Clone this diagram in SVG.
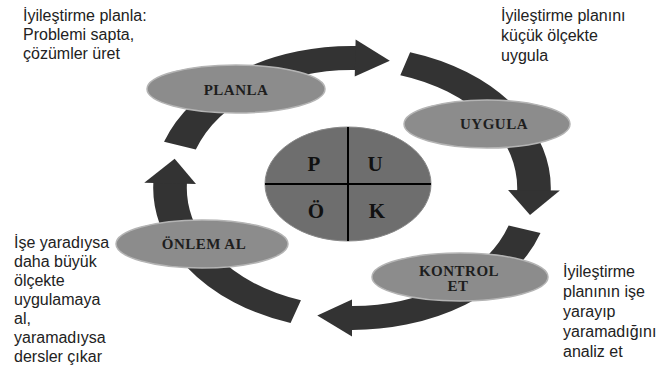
<svg xmlns="http://www.w3.org/2000/svg" width="672" height="372" viewBox="0 0 672 372">
<style>
.band{fill:none;stroke:#333;stroke-width:24;stroke-linecap:butt}
.head{fill:#333}
.node{fill:#8c8c8c;stroke:#b4b4b4;stroke-width:1.5}
.nt{font-family:"Liberation Serif",serif;font-weight:bold;font-size:15px;letter-spacing:0.5px;fill:#1e1e1e;text-anchor:middle}
.ct{font-family:"Liberation Serif",serif;font-weight:bold;font-size:21px;fill:#111;text-anchor:middle}
.side{font-family:"Liberation Sans",Arial,sans-serif;font-size:16px;fill:#222}
</style>
<rect width="672" height="372" fill="#fff"/>
<g id="connectors" transform="translate(352,188) scale(1.4,1)">
  <path class="band" d="M -122.92 -42.32 A 130 130 0 0 1 4.54 -129.92"/>
  <polygon class="head" points="2.59,-148.48 27.03,-127.16 1.95,-111.48"/>
  <path class="band" d="M 38.01 -124.32 A 130 130 0 0 1 129.92 4.54"/>
  <polygon class="head" points="148.48,2.59 127.16,27.03 111.48,1.95"/>
  <path class="band" d="M 123.28 41.25 A 130 130 0 0 1 -4.54 129.92"/>
  <polygon class="head" points="0,148.5 -24.81,127.61 0,111.5"/>
  <path class="band" d="M -40.17 123.64 A 130 130 0 0 1 -129.68 -9.07"/>
  <polygon class="head" points="-148.41,-5.18 -126.67,-29.24 -111.43,-3.89"/>
</g>
<g id="planla">
  <ellipse class="node" cx="236" cy="89" rx="89" ry="24"/>
  <text class="nt" x="236" y="95">PLANLA</text>
</g>
<g id="uygula">
  <ellipse class="node" cx="487" cy="124" rx="83" ry="24"/>
  <text class="nt" x="494" y="129">UYGULA</text>
</g>
<g id="kontrol">
  <ellipse class="node" cx="460" cy="277" rx="88" ry="24"/>
  <text class="nt" x="459" y="276">KONTROL</text>
  <text class="nt" x="458" y="291">ET</text>
</g>
<g id="onlem">
  <ellipse class="node" cx="202" cy="244" rx="86" ry="24"/>
  <text class="nt" x="204" y="249">ÖNLEM AL</text>
</g>
<g id="center">
  <ellipse cx="348" cy="184" rx="83" ry="57" fill="#6e6e6e" stroke="#888" stroke-width="1"/>
  <line x1="348" y1="127" x2="348" y2="241" stroke="#000" stroke-width="2"/>
  <line x1="265" y1="184" x2="431" y2="184" stroke="#000" stroke-width="2"/>
  <text class="ct" x="314" y="171">P</text>
  <text class="ct" x="375" y="171">U</text>
  <text class="ct" x="316" y="218">Ö</text>
  <text class="ct" x="377" y="218">K</text>
</g>
<g id="note-plan">
  <text class="side" x="23" y="21">İyileştirme planla:</text>
  <text class="side" x="23" y="40">Problemi sapta,</text>
  <text class="side" x="23" y="59">çözümler üret</text>
</g>
<g id="note-uygula">
  <text class="side" x="501" y="21">İyileştirme planını</text>
  <text class="side" x="501" y="41">küçük ölçekte</text>
  <text class="side" x="501" y="61">uygula</text>
</g>
<g id="note-onlem">
  <text class="side" x="14" y="248">İşe yaradıysa</text>
  <text class="side" x="14" y="267">daha büyük</text>
  <text class="side" x="14" y="286">ölçekte</text>
  <text class="side" x="14" y="305">uygulamaya</text>
  <text class="side" x="14" y="324">al,</text>
  <text class="side" x="14" y="343">yaramadıysa</text>
  <text class="side" x="14" y="362">dersler çıkar</text>
</g>
<g id="note-kontrol">
  <text class="side" x="563" y="277">İyileştirme</text>
  <text class="side" x="563" y="297">planının işe</text>
  <text class="side" x="563" y="317">yarayıp</text>
  <text class="side" x="563" y="337">yaramadığını</text>
  <text class="side" x="563" y="357">analiz et</text>
</g>
</svg>
